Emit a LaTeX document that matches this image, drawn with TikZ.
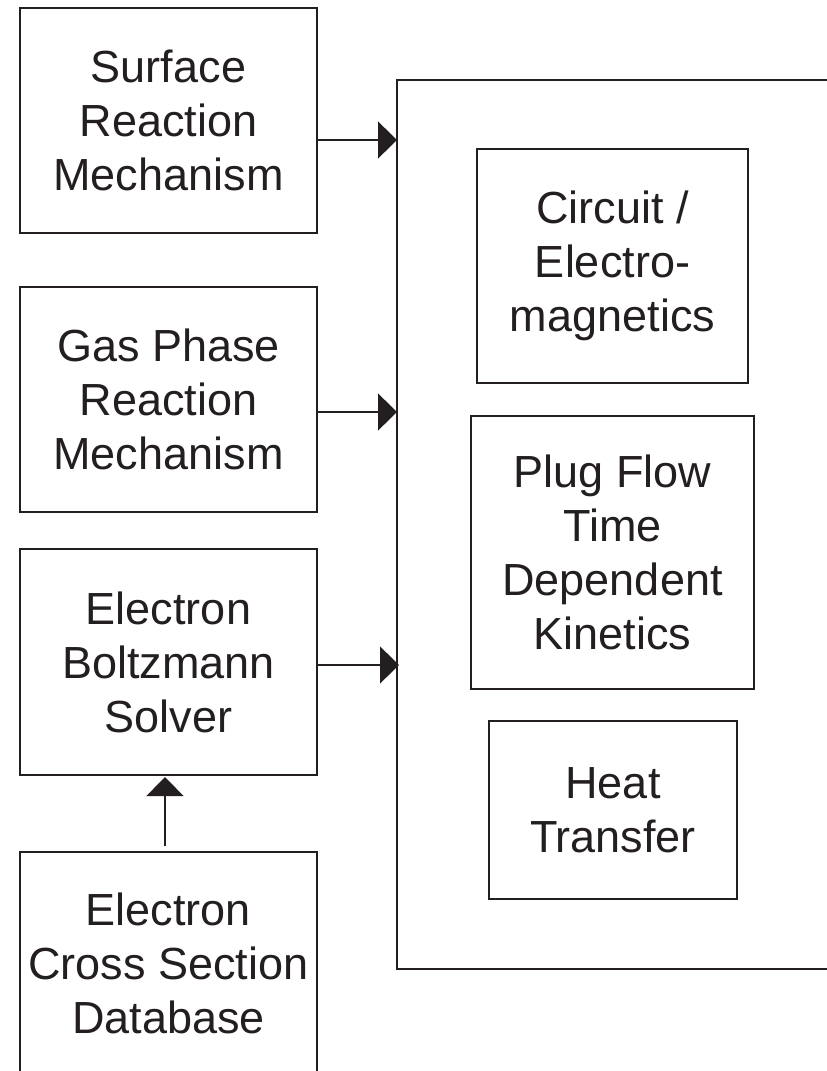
\documentclass[tikz,border=0pt]{standalone}
\usepackage{fontspec}
\setmainfont{Liberation Sans}
\usetikzlibrary{arrows.meta}
\definecolor{ink}{RGB}{35,31,32}
\begin{document}
\begin{tikzpicture}[x=1pt,y=-1pt,
  blk/.style={draw=ink, line width=1.1pt, rectangle, inner sep=0pt, outer sep=0pt,
    text=ink, align=center, font=\fontsize{45}{54}\selectfont},
  arr/.style={draw=ink, line width=1.1pt, -{Triangle[length=19pt,width=37pt]}}]
\useasboundingbox (0,0) rectangle (827,1071);
\clip (0,0) rectangle (827,1071);
\fill[white] (0,0) rectangle (827,1071);
% left column
\node[blk, minimum width=297pt, minimum height=225pt] (s1) at (168.5,120.5) {Surface\\Reaction\\Mechanism};
\node[blk, minimum width=297pt, minimum height=225pt] (s2) at (168.5,399.5) {Gas Phase\\Reaction\\Mechanism};
\node[blk, minimum width=297pt, minimum height=226pt] (s3) at (168.5,662) {Electron\\Boltzmann\\Solver};
\node[blk, minimum width=297pt, minimum height=223pt] (s4) at (168.5,963.5) {Electron\\Cross Section\\Database};
% big simulator box (open to the right)
\node[blk, minimum width=603pt, minimum height=889pt] (big) at (698.5,524.5) {};
\node[blk, minimum width=271pt, minimum height=234pt] (c1) at (612.5,266) {Circuit /\\Electro-\\magnetics};
\node[blk, minimum width=283pt, minimum height=273pt] (c2) at (612.5,552.5) {Plug Flow\\Time\\Dependent\\Kinetics};
\node[blk, minimum width=248pt, minimum height=178pt] (c3) at (613,810) {Heat\\Transfer};
% connectors
\draw[arr] ([yshift=-19.5pt]s1.east) -- ([yshift=-19.5pt]s1.east -| big.west);
\draw[arr] ([yshift=-12.5pt]s2.east) -- ([yshift=-12.5pt]s2.east -| big.west);
\draw[arr] ([yshift=-3pt]s3.east) -- ([yshift=-3pt,xshift=2pt]s3.east -| big.west);
\draw[arr] ([xshift=-3.5pt,yshift=6pt]s4.north) -- ([xshift=-3.5pt,yshift=-2pt]s3.south);
\end{tikzpicture}
\end{document}
